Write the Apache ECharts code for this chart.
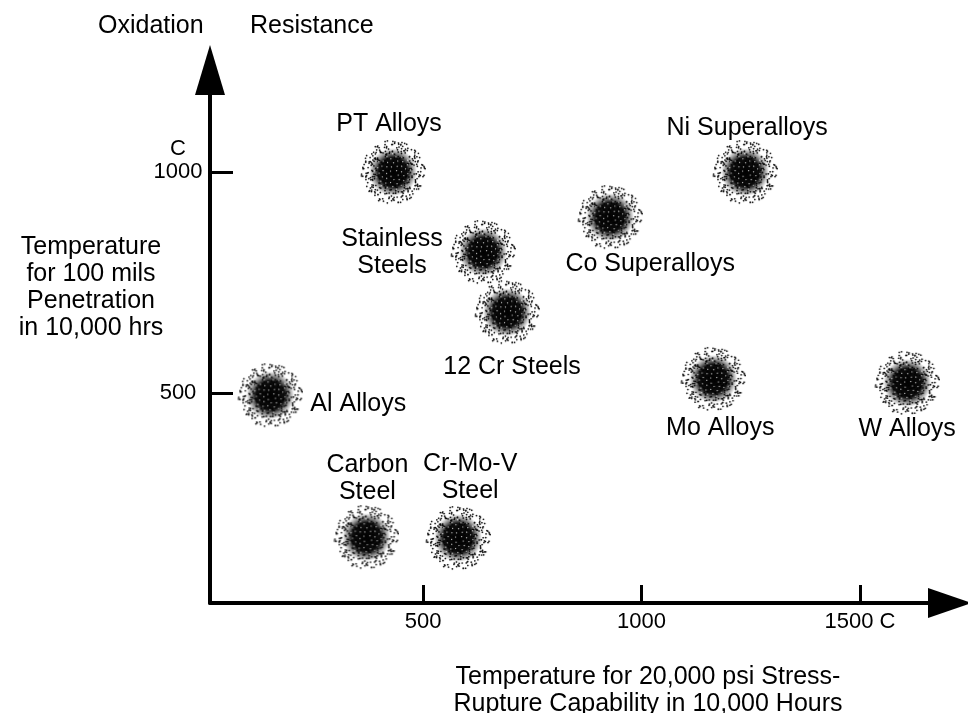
<!DOCTYPE html>
<html>
<head>
<meta charset="utf-8">
<script src="https://cdn.jsdelivr.net/npm/echarts@6/dist/echarts.min.js"></script>
<style>
  html, body { margin: 0; padding: 0; background: #fff; }
  #main { width: 968px; height: 713px; }
</style>
</head>
<body>
<div id="main"></div>
<script>
// alloy families
var names = ['PT Alloys', 'Ni Superalloys', 'Co Superalloys', 'Stainless\nSteels', '12 Cr Steels',
             'Al Alloys', 'Mo Alloys', 'W Alloys', 'Carbon\nSteel', 'Cr-Mo-V\nSteel'];
// temperature for 20,000 psi stress-rupture in 10,000 h (C)
var ruptureTemp = [431, 1237, 928, 637, 692, 150, 1164, 1608, 370, 580];
// temperature for 100 mils penetration in 10,000 h (C)
var oxidationTemp = [1000, 1000, 898, 819, 683, 495, 532, 523, 174, 172];

var xTicks = [500, 1000, 1500];
var yTicks = [500, 1000];

// label placement, relative to the symbol box (66x66)
var labelPos = {
  'PT Alloys': [29, -15],
  'Ni Superalloys': [35, -11],
  'Co Superalloys': [73, 80],
  'Stainless\nSteels': [-58, 34],
  '12 Cr Steels': [38, 88],
  'Al Alloys': [121, 42],
  'Mo Alloys': [40, 82],
  'W Alloys': [33, 79],
  'Carbon\nSteel': [34, -26],
  'Cr-Mo-V\nSteel': [45, -27]
};

var FONT = 'Liberation Sans';
var INK = '#000';

// stippled blob used as the marker: dark core + scattered dot fringe
function stippleSymbol() {
  var S = 132, c = S / 2;
  var cv = document.createElement('canvas');
  cv.width = S; cv.height = S;
  var ctx = cv.getContext('2d');
  var g = ctx.createRadialGradient(c, c, 0, c, c, 48);
  g.addColorStop(0, 'rgba(0,0,0,1)');
  g.addColorStop(0.6, 'rgba(0,0,0,0.95)');
  g.addColorStop(0.82, 'rgba(0,0,0,0.4)');
  g.addColorStop(1, 'rgba(0,0,0,0)');
  ctx.fillStyle = g;
  ctx.beginPath(); ctx.arc(c, c, 48, 0, Math.PI * 2); ctx.fill();
  var N = 360, R = 63;
  ctx.fillStyle = '#000';
  for (var k = 1; k < N; k++) {
    var h1 = Math.sin(k * 12.9898) * 43758.5453; h1 -= Math.floor(h1);
    var h2 = Math.sin(k * 78.233) * 12543.123; h2 -= Math.floor(h2);
    var r = R * Math.sqrt(k / N) + (h1 - 0.5) * 5;
    var a = k * 2.39996 + (h2 - 0.5) * 0.5;
    ctx.beginPath();
    ctx.arc(c + r * Math.cos(a), c + r * Math.sin(a), 1.7, 0, Math.PI * 2);
    ctx.fill();
  }
  // a few white specks in the core
  ctx.fillStyle = 'rgba(255,255,255,0.85)';
  for (var m = 1; m < 50; m++) {
    var rr = 38 * Math.sqrt(m / 50);
    var aa = m * 2.39996 + 1.1;
    ctx.beginPath();
    ctx.arc(c + rr * Math.cos(aa), c + rr * Math.sin(aa), 1.2, 0, Math.PI * 2);
    ctx.fill();
  }
  return 'image://' + cv.toDataURL();
}

var data = names.map(function (n, i) {
  return {
    name: n,
    value: [ruptureTemp[i], oxidationTemp[i]],
    label: { position: labelPos[n] }
  };
});

var chart = echarts.init(document.getElementById('main'), null, { renderer: 'canvas' });

var titleStyle = { fontFamily: FONT, fontSize: 25, fontWeight: 'normal', color: INK };

var option = {
  backgroundColor: '#fff',
  animation: false,
  title: [
    { text: 'Oxidation', left: 93, top: 9, textStyle: titleStyle },
    { text: 'Resistance', left: 245, top: 9, textStyle: titleStyle },
    {
      text: 'Temperature\nfor 100 mils\nPenetration\nin 10,000 hrs',
      left: 86, top: 229, textAlign: 'center',
      textStyle: Object.assign({ lineHeight: 27, align: 'center' }, titleStyle)
    },
    {
      text: 'Temperature for 20,000 psi Stress-\nRupture Capability in 10,000 Hours',
      left: 643, top: 659, textAlign: 'center',
      textStyle: Object.assign({ lineHeight: 27, align: 'center' }, titleStyle)
    }
  ],
  grid: { left: 210, right: 18, top: 70, bottom: 110, containLabel: false },
  xAxis: {
    type: 'value',
    min: 12,
    max: 1706,
    splitLine: { show: false },
    axisLine: {
      onZero: false,
      symbol: ['none', 'triangle'],
      symbolSize: [30, 44],
      lineStyle: { color: INK, width: 4 }
    },
    axisTick: {
      inside: true, length: 18, customValues: xTicks,
      lineStyle: { color: INK, width: 3 }
    },
    axisLabel: {
      customValues: xTicks,
      margin: 8,
      fontFamily: FONT, fontSize: 22, color: INK,
      formatter: function (v) { return v === 1500 ? '1500 C' : String(v); }
    }
  },
  yAxis: {
    type: 'value',
    min: 25,
    max: 1231,
    splitLine: { show: false },
    axisLine: {
      onZero: false,
      symbol: ['none', 'triangle'],
      symbolSize: [30, 50],
      lineStyle: { color: INK, width: 4 }
    },
    axisTick: {
      inside: true, length: 23, customValues: yTicks,
      lineStyle: { color: INK, width: 3 }
    },
    axisLabel: {
      customValues: yTicks,
      margin: 32,
      align: 'center',
      lineHeight: 23,
      fontFamily: FONT, fontSize: 22, color: INK,
      formatter: function (v) { return v === 1000 ? 'C\n1000\n ' : String(v); }
    }
  },
  series: [{
    type: 'scatter',
    symbol: stippleSymbol(),
    symbolSize: 66,
    data: data,
    itemStyle: { opacity: 1 },
    label: {
      show: true,
      formatter: '{b}',
      align: 'center',
      verticalAlign: 'middle',
      lineHeight: 27,
      fontFamily: FONT, fontSize: 25, color: INK
    },
    emphasis: { disabled: true }
  }]
};

chart.setOption(option);
</script>
</body>
</html>
